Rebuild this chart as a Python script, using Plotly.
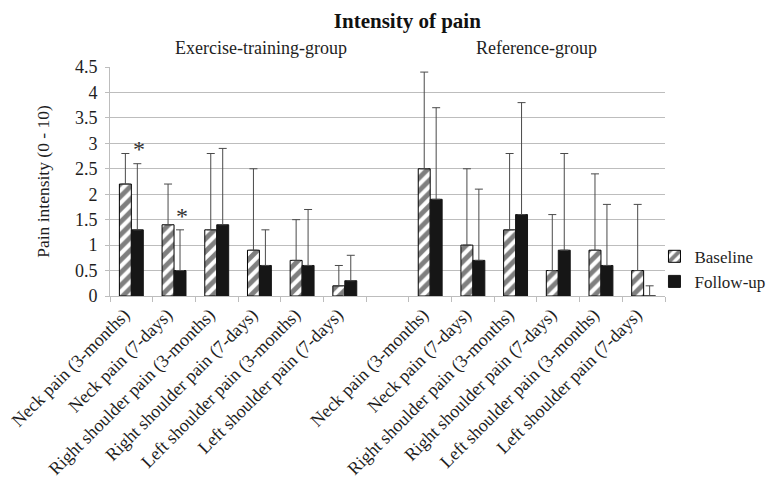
import plotly.graph_objects as go

# ---- data ----
categories = ["Neck pain (3-months)", "Neck pain (7-days)", "Right shoulder pain (3-months)",
              "Right shoulder pain (7-days)", "Left shoulder pain (3-months)", "Left shoulder pain (7-days)"]
group_names = ["Exercise-training-group", "Reference-group"]

ex_baseline = [2.2, 1.4, 1.3, 0.9, 0.7, 0.2]
ex_baseline_err = [0.6, 0.8, 1.5, 1.6, 0.8, 0.4]
ex_followup = [1.3, 0.5, 1.4, 0.6, 0.6, 0.3]
ex_followup_err = [1.3, 0.8, 1.5, 0.7, 1.1, 0.5]

ref_baseline = [2.5, 1.0, 1.3, 0.5, 0.9, 0.5]
ref_baseline_err = [1.9, 1.5, 1.5, 1.1, 1.5, 1.3]
ref_followup = [1.9, 0.7, 1.6, 0.9, 0.6, 0.0]
ref_followup_err = [1.8, 1.4, 2.2, 1.9, 1.2, 0.2]

significant = [0, 1]  # exercise-group categories marked with *
y_ticks = [0, 0.5, 1, 1.5, 2, 2.5, 3, 3.5, 4, 4.5]

# ---- positions: 6 categories, empty slot, 6 categories ----
n = len(categories)
x_ex = list(range(n))
x_ref = [n + 1 + i for i in range(n)]
x_all = x_ex + x_ref
labels_all = categories + categories

FONT = "Liberation Serif, Times New Roman, serif"
GRID = "#bdbdbd"
TXT = "#1e1e1e"

fig = go.Figure()
fig.add_trace(go.Bar(
    name="Baseline", x=x_all, y=ex_baseline + ref_baseline,
    marker=dict(color="white", line=dict(color="black", width=1),
                pattern=dict(shape="/", fgcolor="black", bgcolor="white", size=9, solidity=0.55)),
    error_y=dict(type="data", symmetric=False, array=ex_baseline_err + ref_baseline_err,
                 arrayminus=[0] * (2 * n), color="#4a4a4a", thickness=1, width=4),
))
fig.add_trace(go.Bar(
    name="Follow-up", x=x_all, y=ex_followup + ref_followup,
    marker=dict(color="#161616", line=dict(color="#161616", width=1)),
    error_y=dict(type="data", symmetric=False, array=ex_followup_err + ref_followup_err,
                 arrayminus=[0] * (2 * n), color="#4a4a4a", thickness=1, width=4),
))

for i in significant:
    fig.add_annotation(x=x_ex[i] + 0.18, y=ex_followup[i] + ex_followup_err[i] + 0.28,
                       text="*", showarrow=False, xref="x", yref="y",
                       font=dict(family=FONT, size=24, color="#333"), yanchor="middle")

fig.add_annotation(x=3.04, y=1.0, yref="paper", xref="x", text=group_names[0], showarrow=False,
                   yanchor="middle", yshift=19, font=dict(family=FONT, size=18, color=TXT))
fig.add_annotation(x=9.5, y=1.0, yref="paper", xref="x", text=group_names[1], showarrow=False,
                   yanchor="middle", yshift=19, font=dict(family=FONT, size=18, color=TXT))

fig.update_layout(
    width=770, height=482,
    margin=dict(l=110, r=105, t=67, b=186, autoexpand=False),
    paper_bgcolor="white", plot_bgcolor="white",
    font=dict(family=FONT, size=18, color=TXT),
    title=dict(text="<b>Intensity of pain</b>", x=0.529, xanchor="center", y=0.958, yanchor="middle",
               font=dict(family=FONT, size=21, color="#111")),
    barmode="group", bargap=0.44, bargroupgap=0,
    legend=dict(x=0.981, xanchor="left", y=0.25, yanchor="top", bgcolor="rgba(0,0,0,0)",
                font=dict(family=FONT, size=17, color=TXT), itemwidth=30, tracegroupgap=0),
    showlegend=True,
)
fig.update_xaxes(
    range=[-0.5, 2 * n + 0.5], tickmode="array", tickvals=x_all, ticktext=labels_all,
    tickangle=-45, ticks="", showgrid=False, showline=True, linecolor=GRID, linewidth=1,
    tickfont=dict(family=FONT, size=18, color=TXT), zeroline=False, automargin=False,
    ticklabelshift=-7,
    minor=dict(ticks="outside", tick0=0.5, dtick=1, ticklen=5, tickcolor=GRID, showgrid=False),
)
fig.update_yaxes(
    range=[0, 4.5], tickmode="array", tickvals=y_ticks, ticks="outside", ticklen=4, tickcolor=GRID,
    showgrid=True, gridcolor=GRID, gridwidth=1, showline=True, linecolor=GRID, linewidth=1,
    zeroline=False, tickfont=dict(family=FONT, size=18, color=TXT), automargin=False,
    ticklabelstandoff=4,
    title=dict(text="Pain intensity (0 - 10)", standoff=20, font=dict(family=FONT, size=17.5, color=TXT)),
)

# remove the page's default 8px body margin so the figure fills the 770x482 window exactly
fig.write_html("out.html", config={"displayModeBar": False},
               post_script="document.body.style.margin='0';")
